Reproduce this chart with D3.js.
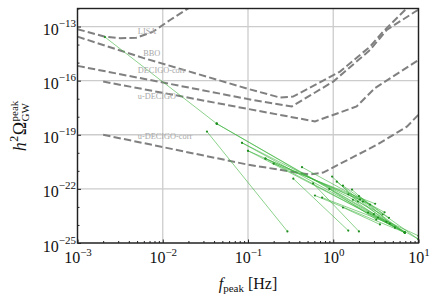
<!DOCTYPE html>
<html>
<head>
<meta charset="utf-8">
<script src="https://cdn.jsdelivr.net/npm/d3@7"></script>
<style>
body { margin: 0; background: #fff; }
svg text { font-family: "Liberation Serif", "DejaVu Serif", serif; }
</style>
</head>
<body>
<svg id="chartSvg"></svg>
<script>
// detector sensitivity curves, [f (Hz), h^2 Omega]
lisa = [[1e-3,7.1e-14],[2.1e-3,2.75e-14],[3.16e-3,2.25e-14],[4.9e-3,2.4e-14],[7.7e-3,5.2e-14],[0.0122,2.3e-13],[0.0191,9.0e-13],[0.0274,2.7e-12]]
bbo = [[1e-3,2.75e-14],[5.86e-3,1.83e-15],[0.0147,5.1e-16],[0.1,3.5e-17],[0.237,1.16e-17],[0.337,1.3e-17],[1.2,3.2e-16],[2.7,7.7e-15],[3.84,5.2e-14],[6.95,8.3e-13],[10.4,5.6e-12]]
decigoCorr = [[1e-3,6.6e-16],[0.1,9.5e-18],[0.326,3.7e-18],[1.0,8.9e-17],[2.7,5.0e-15],[4.24,6.5e-14],[9.1,6.6e-13],[10.5,1.0e-12]]
uDecigo = [[2.0e-3,8.9e-17],[0.1,2.7e-18],[0.61,5.5e-19],[1.88,3.7e-18],[3.09,3.9e-17],[10,1.4e-15]]
uDecigoCorr = [[2.0e-3,1.0e-19],[0.1,2.2e-21],[0.53,6.2e-22],[0.76,8.0e-22],[3.26,2.8e-20],[7.3,2.8e-19],[10,1.3e-18]]

curves = [lisa, bbo, decigoCorr, uDecigo, uDecigoCorr]
curveNames = ['LISA', 'BBO', 'DECIGO-corr', 'u-DECIGO', 'u-DECIGO-corr']
// where each name is written, [f, h^2 Omega]
curveLabelAt = [[5.1e-3,3.9e-14],[5.9e-3,2.4e-15],[5.1e-3,2.5e-16],[5.1e-3,1.0e-17],[5.1e-3,6.0e-20]]

// peak of each model, from -> to
segFrom = [[0.0021,2.6e-14],[0.043,4.1e-19],[0.043,4.1e-19],[0.033,1.5e-19],[0.085,3.6e-20],[0.085,3.6e-20],
  [0.1,1.3e-20],[0.1,1.3e-20],[0.16,4.8e-21],[0.16,4.8e-21],[0.34,3.7e-22],[0.58,2.0e-22],[0.61,4.3e-23],
  [0.74,3.3e-23],[0.97,4.8e-22],[1.3,1.5e-22],[1.66,9.1e-23],[2.23,2.0e-23],[2.56,4.9e-24],[3.35,2.6e-24],
  [1.3,9.3e-24],[0.43,1.6e-21],[0.2,2.5e-21],[1.1,2.5e-22],[1.5,5.0e-23],[2.0,4.0e-23],[1.7,2.5e-23],[0.9,1.0e-22]]
segTo = [[0.043,4.1e-19],[6.9,3.8e-25],[10,1.6e-25],[0.29,4.4e-25],[6.9,3.8e-25],[3.8,3.8e-24],
  [2.7,1.35e-23],[6.9,3.8e-25],[2.06,2.6e-23],[5.3,7.2e-25],[1.5,4.9e-25],[2.0,4.4e-25],[6.9,3.8e-25],
  [4.6,1.2e-24],[1.95,2.0e-23],[10,1.6e-25],[5.3,7.2e-25],[6.9,3.8e-25],[10,2.5e-25],[6.9,3.8e-25],
  [3.53,1.07e-24],[4.0,5.0e-24],[3.1,1.5e-23],[4.2,1.5e-24],[6.9,3.8e-25],[4.5,2.5e-24],[3.0,4.0e-24],[3.2,2.0e-24]]

xTicks = [1e-3, 1e-2, 1e-1, 1e0, 1e1]
yTicks = [1e-25, 1e-22, 1e-19, 1e-16, 1e-13]

let width = 436
let height = 300
let margin = {top: 8.5, right: 17.5, bottom: 57, left: 77.5}
let chartWidth = width - margin.left - margin.right
let chartHeight = height - margin.top - margin.bottom

const svg = d3.select('#chartSvg').attr('width', width).attr('height', height)
const g = svg.append('g').attr('transform', `translate(${margin.left},${margin.top})`)

xScale = d3.scaleLog().domain([1e-3, 1e1]).range([0, chartWidth])
yScale = d3.scaleLog().domain([1e-25, 1e-12]).range([chartHeight, 0])

svg.append('defs').append('clipPath').attr('id', 'clip')
  .append('rect').attr('width', chartWidth).attr('height', chartHeight)

// grid
g.selectAll('.vgrid').data(xTicks).enter().append('line')
  .attr('x1', d => xScale(d)).attr('x2', d => xScale(d))
  .attr('y1', 0).attr('y2', chartHeight)
  .attr('stroke', '#cccccc').attr('stroke-width', 1.3)
g.selectAll('.hgrid').data(yTicks).enter().append('line')
  .attr('y1', d => yScale(d)).attr('y2', d => yScale(d))
  .attr('x1', 0).attr('x2', chartWidth)
  .attr('stroke', '#cccccc').attr('stroke-width', 1.3)

const plot = g.append('g').attr('clip-path', 'url(#clip)')
line = d3.line().x(d => xScale(d[0])).y(d => yScale(d[1]))

plot.selectAll('.curve').data(curves).enter().append('path')
  .attr('d', line)
  .attr('fill', 'none')
  .attr('stroke', '#808080')
  .attr('stroke-width', 2)
  .attr('stroke-dasharray', '7.4,3.2')

g.selectAll('.clabel').data(curveNames).enter().append('text')
  .attr('x', (d, i) => xScale(curveLabelAt[i][0]))
  .attr('y', (d, i) => yScale(curveLabelAt[i][1]))
  .attr('font-size', 8.3)
  .attr('fill', '#a8a8a8')
  .text(d => d)

segs = segFrom.map((d, i) => [d, segTo[i]])
plot.selectAll('.seg').data(segs).enter().append('path')
  .attr('d', line)
  .attr('fill', 'none')
  .attr('stroke', '#3cb43c')
  .attr('stroke-width', 0.6)
plot.selectAll('.dot').data(segs.flat()).enter().append('circle')
  .attr('cx', d => xScale(d[0]))
  .attr('cy', d => yScale(d[1]))
  .attr('r', 1.1)
  .attr('fill', '#1f8f1f')

// minor ticks
xMinor = []
for (let e = -3; e < 1; e++) for (let k = 2; k < 10; k++) xMinor.push(k * Math.pow(10, e))
yMinor = d3.range(-25, -11).map(e => Math.pow(10, e)).filter(v => !yTicks.includes(v))

g.append('g').attr('transform', `translate(0,${chartHeight})`)
  .call(d3.axisBottom(xScale).tickValues(xMinor).tickSize(-2).tickFormat(''))
  .call(a => a.select('.domain').remove())
g.append('g')
  .call(d3.axisLeft(yScale).tickValues(yMinor).tickSize(-2).tickFormat(''))
  .call(a => a.select('.domain').remove())

xAxis = g.append('g').attr('transform', `translate(0,${chartHeight})`)
  .call(d3.axisBottom(xScale).tickValues(xTicks).tickSize(-3.5).tickPadding(0))
yAxis = g.append('g')
  .call(d3.axisLeft(yScale).tickValues(yTicks).tickSize(-3.5).tickPadding(0))

xAxis.selectAll('.tick text').each(function(d) {
  let t = d3.select(this).text(null).attr('y', 20).attr('dy', 0).attr('font-size', 16).attr('fill', '#111')
  t.append('tspan').text('10')
  t.append('tspan').attr('dy', -7).attr('font-size', 11)
    .text(String(Math.round(Math.log10(d))).replace('-', '\u2212'))
})
yAxis.selectAll('.tick text').each(function(d) {
  let t = d3.select(this).text(null).attr('x', -1.5).attr('y', 8).attr('dy', 0).attr('font-size', 16).attr('fill', '#111')
  t.append('tspan').text('10')
  t.append('tspan').attr('dy', -8).attr('font-size', 11)
    .text(String(Math.round(Math.log10(d))).replace('-', '\u2212'))
})
svg.selectAll('.tick line').attr('stroke', '#222')
svg.selectAll('.domain').remove()

g.append('rect').attr('width', chartWidth).attr('height', chartHeight)
  .attr('fill', 'none').attr('stroke', '#222').attr('stroke-width', 1.4)

// x label
xl = svg.append('text').attr('x', margin.left + chartWidth / 2).attr('y', 289)
  .attr('text-anchor', 'middle').attr('font-size', 16).attr('fill', '#111')
xl.append('tspan').attr('font-style', 'italic').text('f')
xl.append('tspan').attr('font-size', 11).attr('dy', 3).text('peak')
xl.append('tspan').attr('dy', -3).text(' [Hz]')

// y label, stacked super/subscript
yl = svg.append('g').attr('transform', 'translate(25.5,126) rotate(-90)')
let pos = 0
function piece(txt, size, dy, italic) {
  let t = yl.append('text').attr('x', pos).attr('y', dy).attr('font-size', size).attr('fill', '#111').text(txt)
  if (italic) t.attr('font-style', 'italic')
  return t
}
let p1 = piece('h', 18, 0, true); pos += p1.node().getComputedTextLength() + 0.5
let p2 = piece('2', 12, -8, false); pos += p2.node().getComputedTextLength() + 0.5
let p3 = piece('\u03a9', 18, 0, false); pos += p3.node().getComputedTextLength() + 0.5
let p4 = piece('peak', 11, -8, false)
let p5 = piece('GW', 11, 3.5, false)
pos += Math.max(p4.node().getComputedTextLength(), p5.node().getComputedTextLength())
yl.selectAll('text').attr('x', function() { return +d3.select(this).attr('x') - pos / 2 })
</script>
</body>
</html>
